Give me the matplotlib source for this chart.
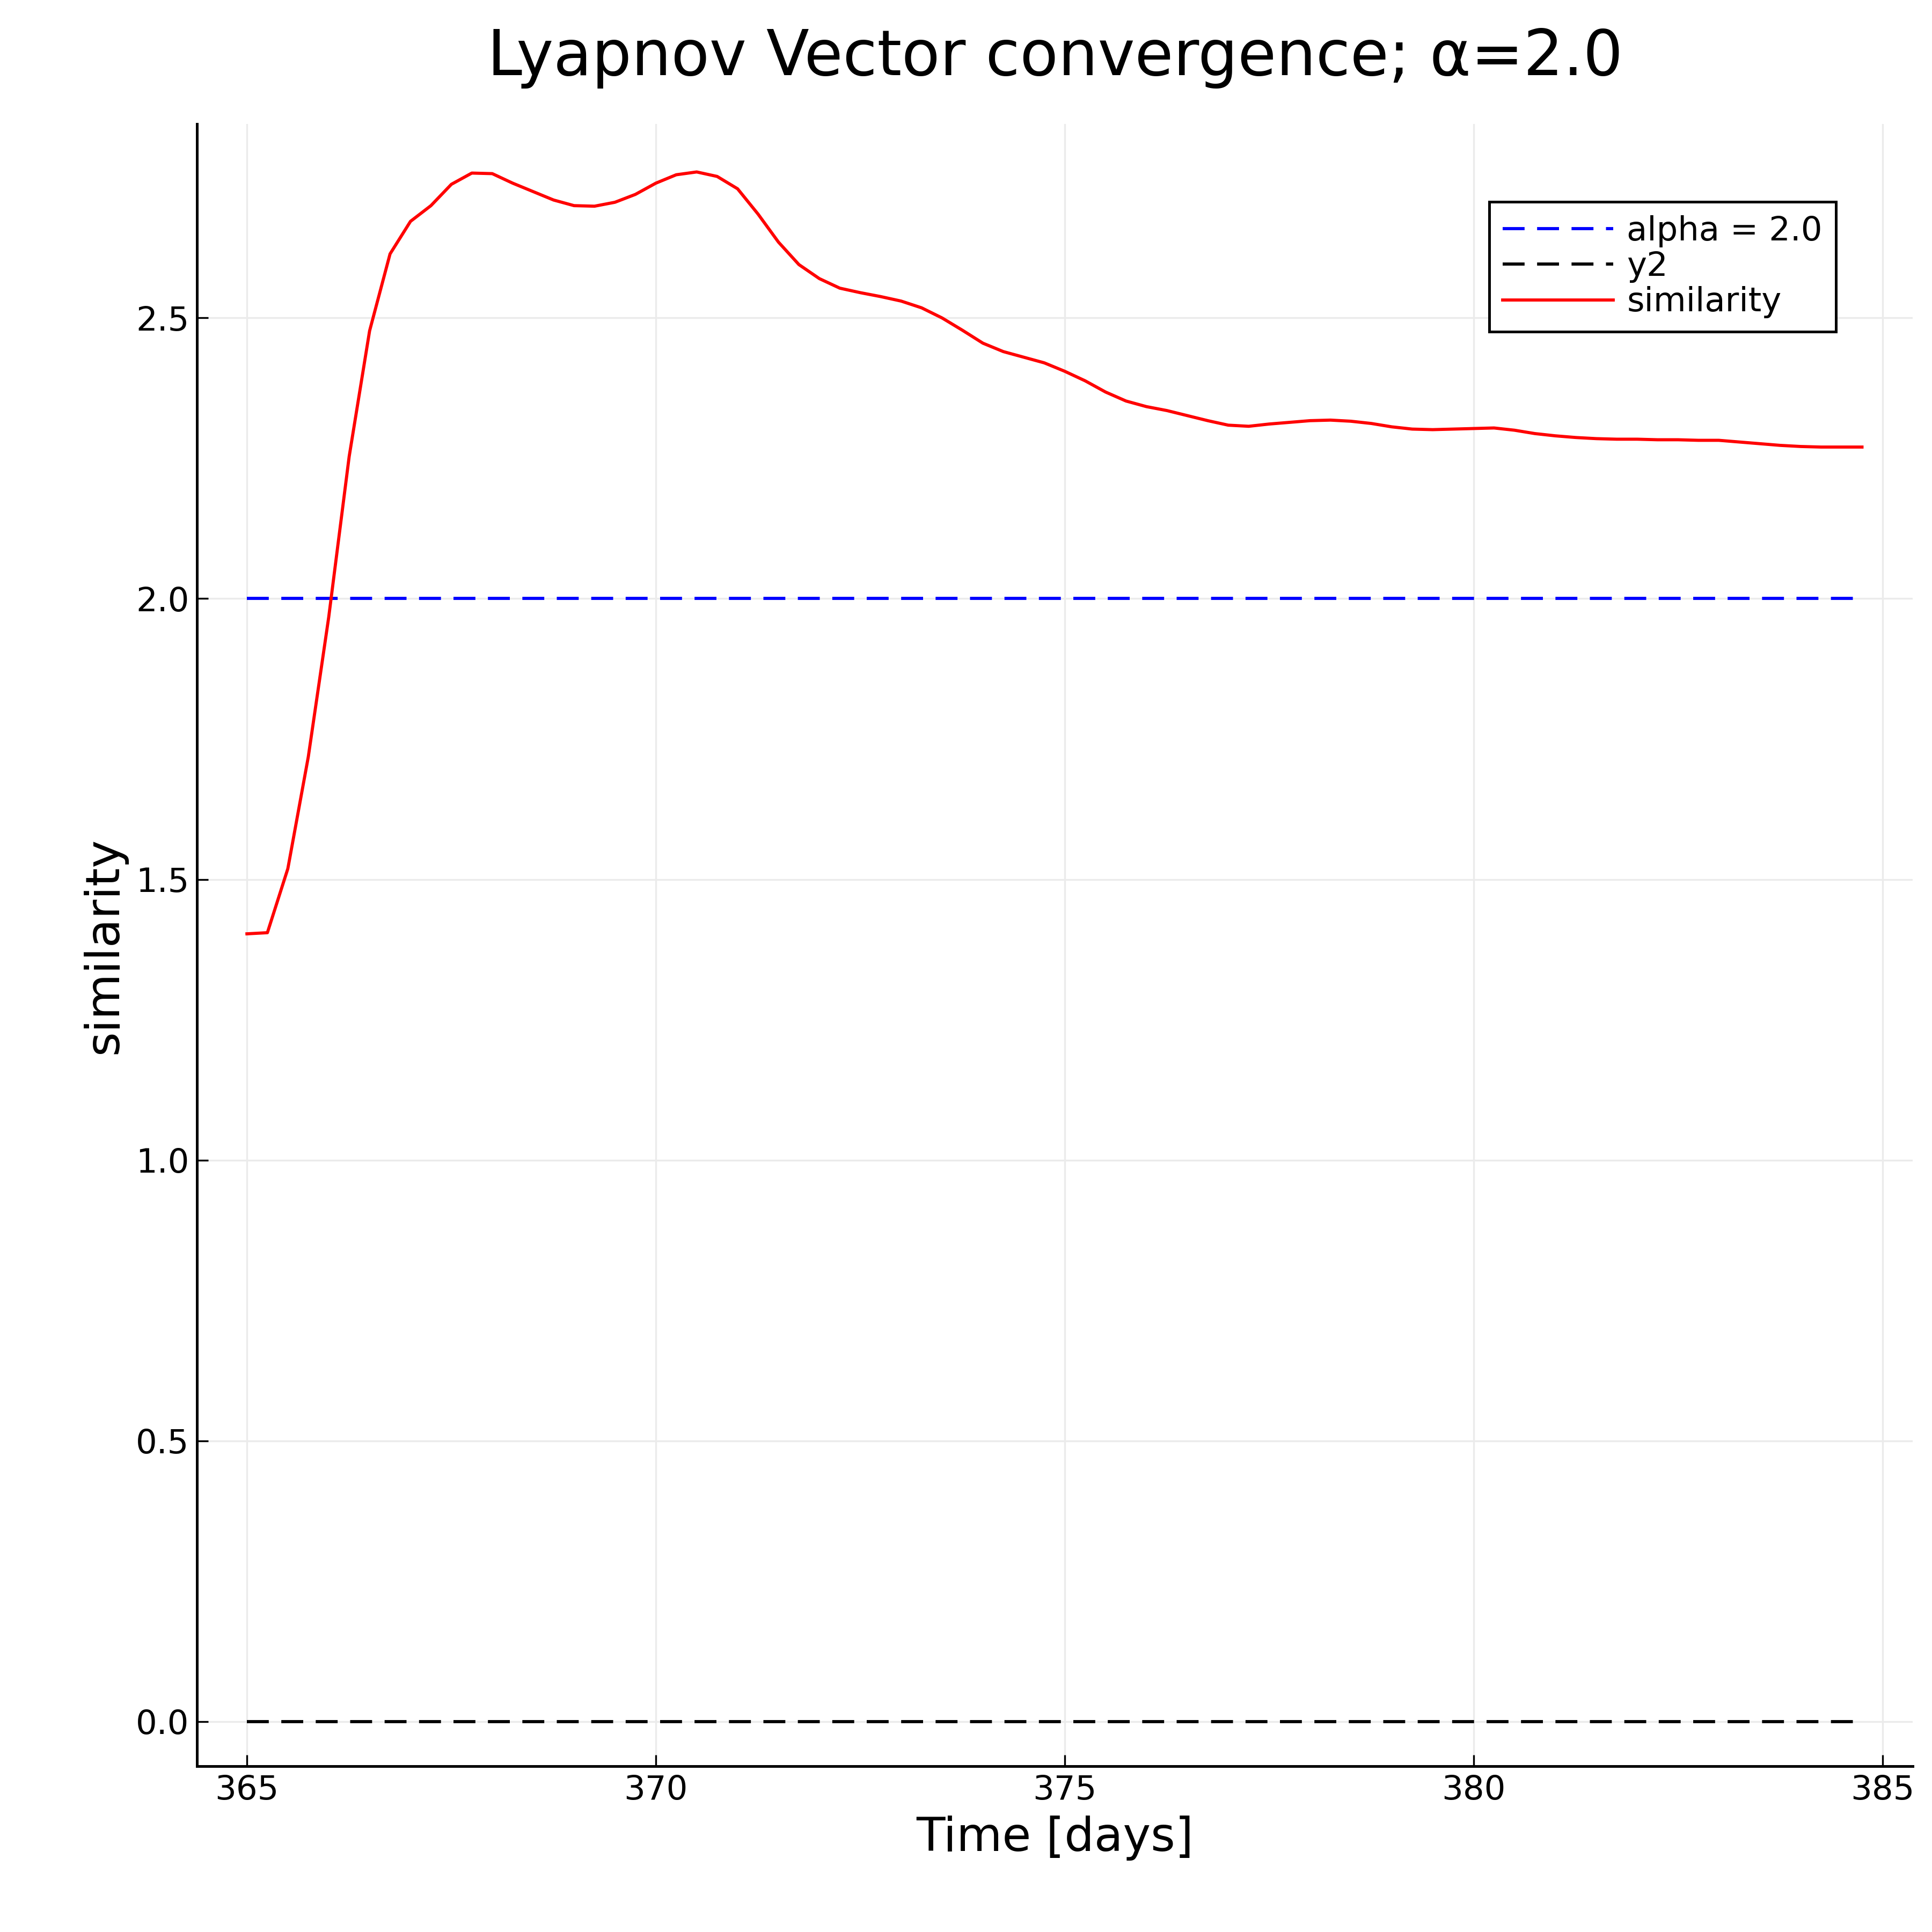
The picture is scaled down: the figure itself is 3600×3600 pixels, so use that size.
import numpy as np
import matplotlib
matplotlib.use("Agg")
import matplotlib.pyplot as plt

# time axis, 0.25 day steps
t = np.arange(365.0, 384.76, 0.25)
similarity = [
    1.403, 1.405, 1.519, 1.718, 1.967, 2.253, 2.477, 2.614, 2.672, 2.700,
    2.738, 2.758, 2.757, 2.740, 2.725, 2.710, 2.700, 2.699, 2.706, 2.720,
    2.740, 2.755, 2.760, 2.752, 2.730, 2.685, 2.635, 2.595, 2.570, 2.553,
    2.545, 2.538, 2.530, 2.518, 2.500, 2.478, 2.455, 2.440, 2.430, 2.420,
    2.405, 2.388, 2.368, 2.352, 2.342, 2.335, 2.326, 2.317, 2.309, 2.307,
    2.311, 2.314, 2.317, 2.318, 2.316, 2.312, 2.306, 2.302, 2.301, 2.302,
    2.303, 2.304, 2.300, 2.294, 2.290, 2.287, 2.285, 2.284, 2.284, 2.283,
    2.283, 2.282, 2.282, 2.279, 2.276, 2.273, 2.271, 2.270, 2.270, 2.270,
]
alpha = 2.0

fig = plt.figure(figsize=(12, 12), dpi=300)
ax = fig.add_axes([0.102, 0.0857, 0.888, 0.85])

ax.plot(t, np.full(len(t), alpha), color="blue", ls=(0, (7, 4)), lw=1.4, label="alpha = 2.0")
ax.plot(t, np.zeros(len(t)), color="black", ls=(0, (7, 4)), lw=1.4, label="y2")
ax.plot(t, similarity, color="red", lw=1.4, label="similarity")

ax.set_xlim(364.39, 385.37)
ax.set_ylim(-0.08, 2.845)
ax.set_xticks([365, 370, 375, 380, 385])
ax.set_yticks(np.arange(0, 2.51, 0.5))
ax.yaxis.set_major_formatter(matplotlib.ticker.FormatStrFormatter("%.1f"))
ax.grid(True, color="#ebebeb", lw=0.8)
ax.spines["top"].set_visible(False)
ax.spines["right"].set_visible(False)
ax.spines["left"].set_linewidth(1.2)
ax.spines["bottom"].set_linewidth(1.2)
ax.tick_params(labelsize=15, direction="in", length=5)
ax.set_xlabel("Time [days]", fontsize=21)
ax.set_ylabel("similarity", fontsize=21)
ax.set_title("Lyapnov Vector convergence; α=2.0", fontsize=28, pad=22)

leg = ax.legend(loc="upper right", bbox_to_anchor=(0.965, 0.963), fontsize=15,
                fancybox=False, edgecolor="black", framealpha=1,
                handlelength=3.3, borderpad=0.4, labelspacing=0.1,
                handletextpad=0.4)
leg.get_frame().set_linewidth(1.2)

plt.savefig("out.png")
